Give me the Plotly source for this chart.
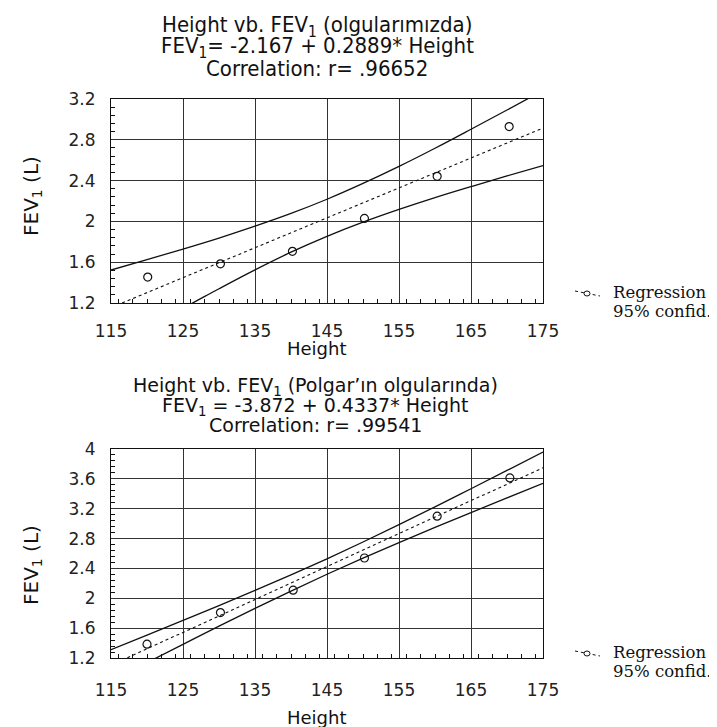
import plotly.graph_objects as go

# ---------------- data ----------------
x_ticks = [115, 125, 135, 145, 155, 165, 175]

# top chart (olgularımızda)
height_top = [120.1, 130.2, 140.2, 150.2, 160.3, 170.3]
fev_top = [1.454, 1.584, 1.707, 2.029, 2.442, 2.930]
band_x = [115, 120, 125, 130, 135, 140, 145, 150, 155, 160, 165, 170, 175]
top_upper = [1.523, 1.625, 1.729, 1.837, 1.953, 2.078, 2.217, 2.372, 2.539, 2.717, 2.903, 3.092, 3.283]
top_lower = [0.787, 0.978, 1.150, 1.340, 1.525, 1.698, 1.853, 1.992, 2.117, 2.233, 2.341, 2.446, 2.547]
reg_x = [115, 175]
top_reg = [1.155, 2.915]

# bottom chart (Polgar'ın olgularında)
height_bot = [120.0, 130.2, 140.3, 150.2, 160.3, 170.4]
fev_bot = [1.385, 1.808, 2.108, 2.540, 3.100, 3.612]
bot_upper = [1.312, 1.507, 1.703, 1.902, 2.105, 2.313, 2.529, 2.754, 2.987, 3.225, 3.468, 3.713, 3.959]
bot_lower = [0.892, 1.138, 1.383, 1.626, 1.864, 2.097, 2.322, 2.538, 2.746, 2.949, 3.148, 3.345, 3.539]
bot_reg = [1.102, 3.749]

top_title = ["Height vb. FEV<sub>1</sub> (olgularımızda)",
             "FEV<sub>1</sub>= -2.167 + 0.2889* Height",
             "Correlation: r= .96652"]
bot_title = ["Height vb. FEV<sub>1</sub> (Polgar’ın olgularında)",
             "FEV<sub>1</sub> = -3.872 + 0.4337* Height",
             "Correlation: r= .99541"]
legend_labels = ["Regression", "95% confid."]

# ---------------- figure ----------------
W, H = 717, 727
def px(x):
    return x / W
def py(y):
    return 1 - y / H

fig = go.Figure()

def add_panel(xa, ya, hx, hy, up, lo, reg):
    common = dict(xaxis=xa, yaxis=ya, showlegend=False, hoverinfo="skip")
    fig.add_trace(go.Scatter(x=band_x, y=up, mode="lines",
                             line=dict(color="#111", width=1.3, shape="spline"), **common))
    fig.add_trace(go.Scatter(x=band_x, y=lo, mode="lines",
                             line=dict(color="#111", width=1.3, shape="spline"), **common))
    fig.add_trace(go.Scatter(x=reg_x, y=reg, mode="lines",
                             line=dict(color="#111", width=1.1, dash="dot"), **common))
    fig.add_trace(go.Scatter(x=hx, y=hy, mode="markers",
                             marker=dict(symbol="circle-open", size=8, color="#111",
                                         line=dict(width=1.2)), **common))

add_panel("x", "y", height_top, fev_top, top_upper, top_lower, top_reg)
add_panel("x2", "y2", height_bot, fev_bot, bot_upper, bot_lower, bot_reg)

tick_font = dict(family="DejaVu Sans", size=17, color="#222")

def xaxis_cfg(anchor, standoff):
    return dict(domain=[px(103), px(535)], anchor=anchor, range=[115, 175],
                tickvals=x_ticks, showgrid=True, gridcolor="#333", gridwidth=1,
                zeroline=False, showline=True, linecolor="#111", linewidth=1.2,
                mirror=True, ticks="", tickfont=tick_font, ticklabelstandoff=standoff,
                automargin=False,
                minor=dict(dtick=2, ticks="inside", ticklen=4, tickcolor="#111",
                           showgrid=False))

def yaxis_cfg(anchor, dom, rng):
    return dict(domain=dom, anchor=anchor, range=rng, dtick=0.4, tick0=1.2,
                showgrid=True, gridcolor="#333", gridwidth=1,
                zeroline=False, showline=True, linecolor="#111", linewidth=1.2,
                mirror=True, ticks="", tickfont=tick_font, ticklabelstandoff=11,
                automargin=False,
                minor=dict(dtick=0.08, ticks="inside", ticklen=4, tickcolor="#111",
                           showgrid=False))

fig.update_layout(
    width=W, height=H, margin=dict(l=0, r=0, t=0, b=0, autoexpand=False),
    paper_bgcolor="white", plot_bgcolor="white",
    xaxis=xaxis_cfg("y", 12),
    yaxis=yaxis_cfg("x", [py(295), py(91)], [1.2, 3.2]),
    xaxis2=xaxis_cfg("y2", 16),
    yaxis2=yaxis_cfg("x2", [py(650), py(441)], [1.2, 4.0]),
)

ann = []
title_font_top = dict(family="DejaVu Sans Condensed, Liberation Sans Narrow, Liberation Sans",
                      size=22, color="#111")
title_font_bot = dict(family="DejaVu Sans", size=19, color="#111")
for txt, y in zip(top_title, [18, 40, 61]):
    ann.append(dict(text=txt, x=px(309), y=py(y), xref="paper", yref="paper",
                    showarrow=False, xanchor="center", yanchor="middle", font=title_font_top))
for txt, y in zip(bot_title, [378, 398, 417]):
    ann.append(dict(text=txt, x=px(307), y=py(y), xref="paper", yref="paper",
                    showarrow=False, xanchor="center", yanchor="middle", font=title_font_bot))

axis_font = dict(family="DejaVu Sans", size=18, color="#111")
for y in [340, 709]:
    ann.append(dict(text="Height", x=px(309), y=py(y), xref="paper", yref="paper",
                    showarrow=False, xanchor="center", yanchor="middle", font=axis_font))
ylab_font = dict(family="DejaVu Sans", size=20, color="#111")
for y in [188, 557]:
    ann.append(dict(text="FEV<sub>1</sub> (L)", x=px(24), y=py(y), xref="paper", yref="paper",
                    showarrow=False, xanchor="center", yanchor="middle", textangle=-90,
                    font=ylab_font))

leg_font = dict(family="DejaVu Serif", size=16.5, color="#111")
shapes = []
for y0 in [284, 644]:
    for lab, dy in zip(legend_labels, [0, 19]):
        ann.append(dict(text=lab, x=px(603), y=py(y0 + dy), xref="paper", yref="paper",
                        showarrow=False, xanchor="left", yanchor="middle", font=leg_font))
    shapes.append(dict(type="line", xref="paper", yref="paper",
                       x0=px(567), y0=py(y0 - 1), x1=px(592), y1=py(y0 + 4),
                       line=dict(color="#111", width=1, dash="dot")))
    shapes.append(dict(type="circle", xref="paper", yref="paper",
                       x0=px(576), y0=py(y0 - 1), x1=px(582), y1=py(y0 + 4),
                       fillcolor="white", line=dict(color="#111", width=1)))

fig.update_layout(annotations=ann, shapes=shapes)
fig.write_html("out.html")
